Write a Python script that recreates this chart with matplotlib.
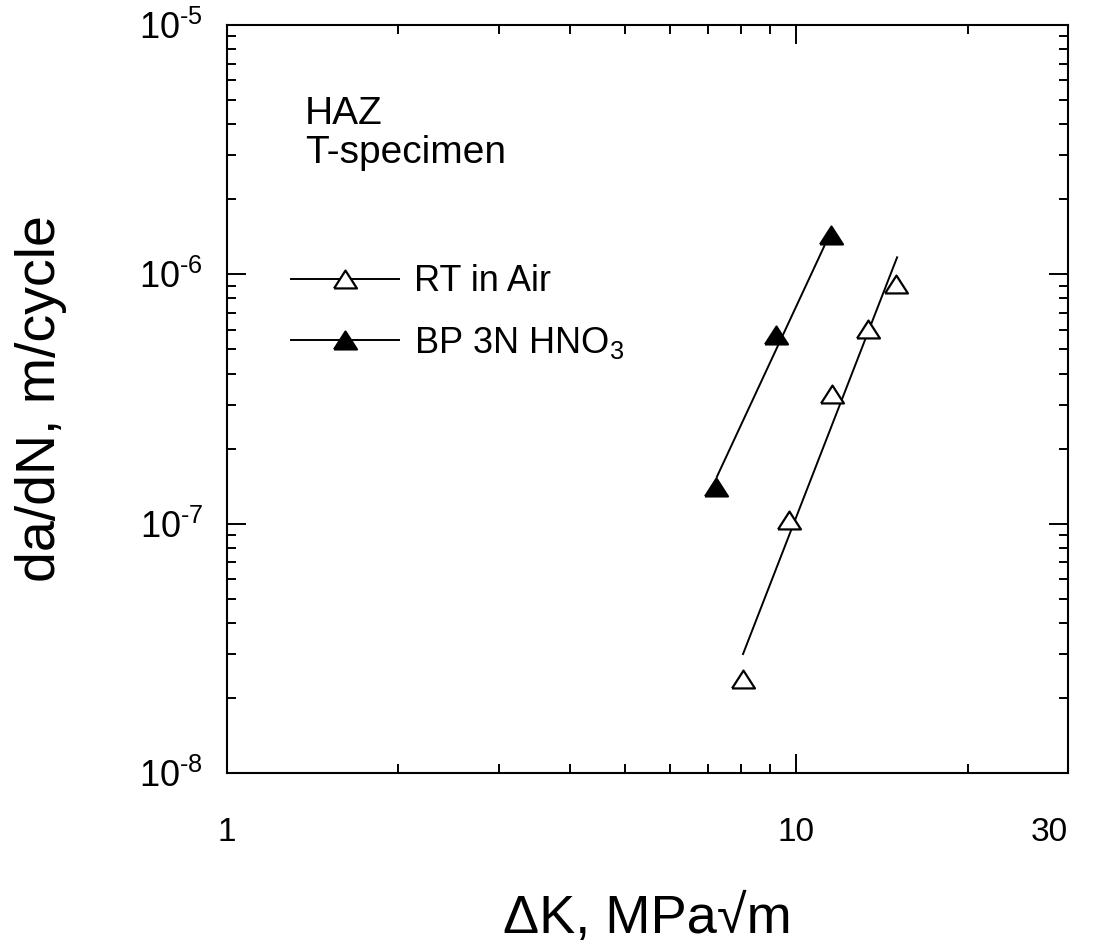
import matplotlib
matplotlib.use('Agg')
import matplotlib.pyplot as plt
from matplotlib.lines import Line2D
from matplotlib.ticker import FixedLocator, FixedFormatter, NullFormatter

plt.rcParams['font.family'] = ['Liberation Sans', 'DejaVu Sans']
plt.rcParams['mathtext.fontset'] = 'custom'
plt.rcParams['mathtext.rm'] = 'Liberation Sans'
plt.rcParams['mathtext.it'] = 'Liberation Sans:italic'
plt.rcParams['mathtext.bf'] = 'Liberation Sans:bold'

# Data (delta K in MPa sqrt(m), da/dN in m/cycle)
air_dk = [8.05, 9.69, 11.55, 13.35, 14.99]
air_rate = [2.38e-8, 1.03e-7, 3.32e-7, 6.05e-7, 9.18e-7]
hno3_dk = [7.22, 9.22, 11.52]
hno3_rate = [1.40e-7, 5.69e-7, 1.435e-6]

# end points of the fitted lines
air_fit_dk = [8.06, 15.03]
air_fit_rate = [3.0e-8, 1.17e-6]
hno3_fit_dk = [7.25, 11.32]
hno3_fit_rate = [1.54e-7, 1.37e-6]

x_major = [1, 10, 30]
x_major_labels = ['1', '10', '30']
x_minor = [2, 3, 4, 5, 6, 7, 8, 9, 20]
y_major = [1e-8, 1e-7, 1e-6, 1e-5]
y_major_labels = [r'$\mathregular{10^{\text{-}8}}$', r'$\mathregular{10^{\text{-}7}}$',
                  r'$\mathregular{10^{\text{-}6}}$', r'$\mathregular{10^{\text{-}5}}$']
y_minor = [m * d for d in [1e-8, 1e-7, 1e-6] for m in range(2, 10)]

# triangle a bit flatter than the default '^'
tri = [(-1, -0.78), (1, -0.78), (0, 0.78), (-1, -0.78)]

fig = plt.figure(figsize=(11, 9.52), dpi=100)
ax = fig.add_axes([227 / 1100, 179 / 952, 841 / 1100, 748 / 952])

ax.set_xscale('log')
ax.set_yscale('log')
ax.set_xlim(1, 30)
ax.set_ylim(1e-8, 1e-5)

# fitted lines
ax.plot(air_fit_dk, air_fit_rate, color='black', lw=1.4, zorder=2)
ax.plot(hno3_fit_dk, hno3_fit_rate, color='black', lw=1.4, zorder=2)

# data points
ax.plot(air_dk, air_rate, ls='none', marker=tri, ms=16.5, mfc='white',
        mec='black', mew=1.6, zorder=3)
ax.plot(hno3_dk, hno3_rate, ls='none', marker=tri, ms=16.5, mfc='black',
        mec='black', mew=1.6, zorder=3)

# ticks
ax.xaxis.set_major_locator(FixedLocator(x_major))
ax.xaxis.set_major_formatter(FixedFormatter(x_major_labels))
ax.xaxis.set_minor_locator(FixedLocator(x_minor))
ax.xaxis.set_minor_formatter(NullFormatter())
ax.yaxis.set_major_locator(FixedLocator(y_major))
ax.yaxis.set_major_formatter(FixedFormatter(y_major_labels))
ax.yaxis.set_minor_locator(FixedLocator(y_minor))
ax.yaxis.set_minor_formatter(NullFormatter())

ax.tick_params(which='both', direction='in', top=True, right=True, width=1.4)
ax.tick_params(which='major', length=13.5)
ax.tick_params(which='minor', length=6.5)
ax.tick_params(axis='x', which='major', labelsize=24, pad=32)
ax.tick_params(axis='y', which='major', labelsize=26, pad=17)
for s in ax.spines.values():
    s.set_linewidth(1.5)

# the last x label sits left of its tick in the original
ax.xaxis.get_major_ticks()[2].label1.set_horizontalalignment('right')

ax.set_xlabel('ΔK, MPa√m', fontsize=39)
ax.set_ylabel('da/dN, m/cycle', fontsize=40)
ax.xaxis.set_label_coords(0.5, -0.162)
ax.yaxis.set_label_coords(-0.19, 0.5)

ax.text(0.093, 0.905, 'HAZ\nT-specimen', transform=ax.transAxes, fontsize=28,
        va='top', ha='left', linespacing=1.12)

handles = [
    Line2D([], [], color='black', lw=1.4, marker=tri, ms=16.5, mfc='white',
           mec='black', mew=1.6),
    Line2D([], [], color='black', lw=1.4, marker=tri, ms=16.5, mfc='black',
           mec='black', mew=1.6),
]
ax.legend(handles, ['RT in Air', r'BP 3N HNO$_\mathregular{3}$'],
          loc='upper left', bbox_to_anchor=(0.076, 0.68), frameon=False,
          fontsize=26, handlelength=3.0, handletextpad=0.4, labelspacing=0.7,
          borderpad=0, borderaxespad=0, numpoints=1)

fig.savefig('out.png', dpi=100)
